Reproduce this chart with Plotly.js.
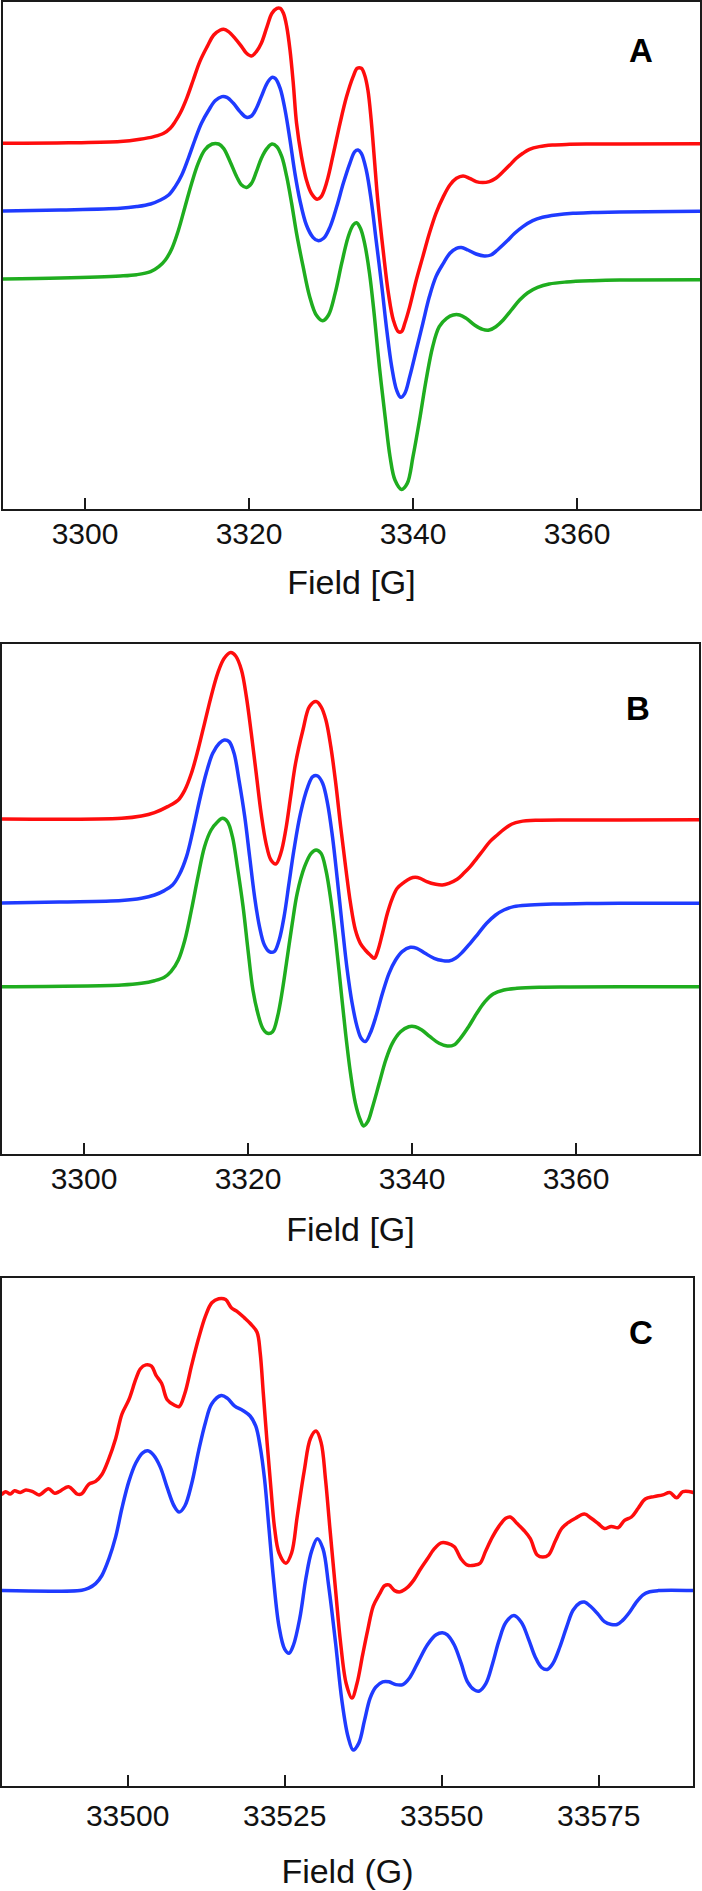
<!DOCTYPE html>
<html>
<head>
<meta charset="utf-8">
<script src="https://cdn.plot.ly/plotly-3.0.1.min.js"></script>
<style>
html,body{margin:0;padding:0;background:#fff;}
#chart{width:702px;height:1891px;}
</style>
</head>
<body>
<div id="chart"></div>
<script>
const fieldRedA = [3290.0,3298.0,3304.3,3306.7,3308.4,3309.6,3310.4,3311.0,3311.6,3312.4,3313.2,3314.0,3314.9,3315.7,3316.5,3316.9,3317.5,3318.3,3319.1,3319.7,3320.3,3320.9,3321.5,3322.2,3322.8,3323.4,3323.8,3324.2,3324.6,3325.0,3325.4,3325.8,3326.4,3327.0,3327.6,3328.3,3328.8,3329.5,3330.3,3331.1,3331.9,3332.7,3333.2,3333.7,3334.1,3334.5,3334.9,3335.3,3335.7,3336.4,3337.0,3337.6,3338.2,3338.6,3339.0,3339.6,3340.4,3341.2,3342.0,3342.8,3343.7,3344.5,3345.3,3346.1,3346.9,3347.7,3348.5,3349.3,3350.1,3351.0,3351.8,3352.6,3353.4,3354.2,3355.4,3357.0,3359.1,3361.1,3365.2,3375.0];
const intRedA = [0,0.5,1.7,4,6.7,10,15,21.7,30,45,63.3,81.7,96.7,108.3,113.3,114,111.7,105,96.7,90,87.3,91.7,100,116.7,130,135,135,130,116.7,93.3,60,20,-13.3,-36.7,-50,-56,-53.3,-38.3,-10,20,46.7,66.7,75,75,68.3,53.3,23.3,-16.7,-56.7,-110,-150,-176.7,-188.3,-188.3,-180,-163.3,-136.7,-113.3,-90,-70,-53.3,-41.7,-35,-32.7,-35,-38.3,-39.3,-38.3,-35,-28.3,-21.7,-15,-10,-6,-3.3,-1.7,-1,-0.7,-0.7,-0.5];
const fieldBlueA = [3290.0,3297.0,3304.3,3306.3,3308.0,3309.2,3310.2,3311.0,3311.8,3312.6,3313.4,3314.2,3315.1,3315.9,3316.7,3317.3,3318.1,3318.9,3319.7,3320.3,3320.9,3321.5,3322.2,3322.8,3323.2,3323.8,3324.4,3325.0,3325.6,3326.2,3327.0,3327.8,3328.4,3329.1,3329.9,3330.7,3331.5,3332.3,3332.9,3333.3,3333.7,3334.3,3334.9,3335.5,3336.2,3336.8,3337.4,3338.0,3338.5,3339.0,3339.6,3340.4,3341.2,3342.0,3342.8,3343.7,3344.5,3345.3,3345.9,3346.7,3347.7,3348.7,3349.5,3350.3,3351.4,3352.4,3353.4,3354.6,3355.8,3357.4,3359.5,3361.9,3365.2,3375.0];
const intBlueA = [0.3,1.3,3,4.7,7.3,11.3,16.3,24.7,36.3,53,71.3,88,101.3,110.7,114.7,114,108,99.7,94,95.3,103,114.7,128,134,133,123,101.3,71.3,38,11.3,-13.7,-26,-29.3,-27,-15.3,4.7,28,48,59.7,61.3,58,41.3,11.3,-28.7,-75.3,-118.7,-155.3,-178.7,-186,-182,-165.3,-138.7,-112,-85.3,-65.3,-52,-42,-37,-36.3,-38.7,-42.7,-44.7,-43.7,-38.7,-30.3,-22,-15.3,-9.3,-6,-3.7,-2,-1.3,-0.7,0];
const fieldGreenA = [3290.0,3297.0,3304.3,3306.3,3308.0,3309.0,3309.8,3310.6,3311.4,3312.2,3313.0,3313.8,3314.6,3315.5,3316.3,3316.9,3317.7,3318.5,3319.1,3319.7,3320.3,3320.9,3321.5,3322.2,3322.8,3323.4,3324.0,3324.6,3325.2,3325.8,3326.6,3327.4,3328.2,3329.0,3329.7,3330.5,3331.3,3332.1,3332.7,3333.1,3333.6,3334.1,3334.7,3335.3,3335.9,3336.6,3337.2,3337.8,3338.6,3339.3,3340.0,3340.8,3341.6,3342.4,3343.2,3344.1,3344.9,3345.7,3346.5,3347.5,3348.5,3349.3,3350.1,3351.0,3352.0,3353.0,3354.0,3355.2,3356.6,3358.7,3361.9,3365.2,3375.0];
const intGreenA = [0.7,1.7,3.7,5,8,13,19.7,31.3,49.7,73,96.3,116.3,129.7,135.7,135.7,131.3,118,103,94.7,92.3,96.3,108,121.3,131.3,135.7,133,123,103,76.3,46.3,13,-17,-35.3,-41,-35.3,-13.7,16.3,43,54.7,57,51.3,36.3,6.3,-37,-87,-137,-177,-200.3,-209.7,-203.7,-177,-140.3,-100.3,-67,-47,-38.7,-35.3,-35.3,-38.7,-45.3,-49.7,-50.3,-47,-40.3,-30.3,-20.3,-13,-7.7,-4.3,-2.3,-1,-0.3,0];
const offsetsA = [365.7, 297.7, 229.3];

const fieldRedB = [3290.0,3304.6,3307.0,3308.6,3310.2,3311.5,3312.3,3313.1,3313.9,3314.7,3315.5,3316.3,3317.1,3317.9,3318.5,3319.2,3319.8,3320.4,3321.0,3321.6,3322.2,3322.8,3323.4,3324.0,3324.6,3325.2,3325.8,3326.7,3327.5,3328.3,3328.9,3329.5,3330.1,3330.7,3331.3,3331.9,3332.5,3333.1,3333.7,3334.3,3334.9,3335.4,3335.8,3336.4,3337.0,3337.6,3338.2,3339.0,3339.8,3340.4,3341.0,3341.8,3342.9,3343.7,3344.5,3345.5,3346.3,3347.1,3347.9,3348.7,3349.5,3350.4,3351.2,3352.2,3353.2,3355.2,3359.3,3365.3,3375.0];
const intRedB = [0.3,1,3.3,6.7,12.7,19.3,29.3,46,69.3,96,122.7,146,161,166.7,163.3,149.3,122.7,86,46,6,-24,-40.7,-44.7,-34,-10.7,22.7,56,89.3,112.7,117.7,112.7,99.3,72.7,36,-7.3,-47.3,-84,-110.7,-124,-130.7,-135.7,-139,-132.3,-114,-94,-79,-69,-63.3,-59,-58,-59,-62.3,-65,-65.7,-64,-60,-54,-47.3,-39,-30.7,-22.3,-15.7,-10,-4.7,-2.3,-1,-0.7,-0.7,-0.5];
const fieldBlueB = [3290.0,3297.0,3304.6,3307.0,3308.6,3309.8,3310.8,3311.6,3312.5,3313.3,3314.1,3314.9,3315.7,3316.5,3317.1,3317.7,3318.3,3318.9,3319.6,3320.2,3320.8,3321.4,3322.0,3322.6,3323.2,3323.8,3324.4,3325.0,3325.6,3326.4,3327.3,3327.9,3328.5,3329.1,3329.7,3330.3,3330.9,3331.5,3332.1,3332.7,3333.3,3333.8,3334.3,3334.9,3335.6,3336.4,3337.2,3338.0,3338.8,3339.8,3340.6,3341.6,3342.7,3343.7,3344.5,3345.3,3346.1,3347.1,3348.1,3349.1,3350.2,3351.2,3352.4,3354.4,3357.2,3361.3,3365.3,3375.0];
const intBlueB = [0.3,1.3,2.7,5,8.3,12.7,18.3,28.3,46.7,73.3,103.3,130,150,160,163.3,161.7,150,123.3,86.7,46.7,6.7,-23.3,-41.7,-48.3,-48.3,-36.7,-13.3,20,53.3,90,116.7,126.7,127.3,120,100,66.7,23.3,-23.3,-66.7,-100,-123.3,-135,-138.3,-130,-113.3,-90,-70,-56.7,-48.3,-44,-45,-50,-55,-57.3,-57.7,-55,-49.3,-40,-30,-20,-11.7,-6.7,-3.3,-1.7,-0.7,-0.3,0,0];
const fieldGreenB = [3290.0,3304.6,3307.0,3308.6,3309.8,3310.6,3311.5,3312.3,3313.1,3313.9,3314.7,3315.5,3316.3,3316.9,3317.5,3318.1,3318.7,3319.4,3320.0,3320.6,3321.2,3321.8,3322.4,3323.0,3323.6,3324.2,3324.8,3325.4,3326.0,3326.9,3327.7,3328.3,3328.9,3329.5,3330.1,3330.7,3331.3,3331.9,3332.5,3333.1,3333.7,3334.1,3334.6,3335.2,3336.0,3336.8,3337.6,3338.6,3339.6,3340.4,3341.2,3342.2,3343.3,3344.3,3345.1,3345.9,3346.9,3347.9,3348.9,3349.9,3351.2,3352.8,3355.6,3359.3,3365.3,3375.0];
const intGreenB = [0.3,2,3.7,6.3,9.7,15.3,27,47,77,110.3,140.3,157,165.3,168.7,165.3,150.3,120.3,80.3,37,-3,-26.3,-41.3,-46.3,-44.7,-29.7,-3,30.3,63.7,93.7,120.3,133.7,137,133.7,117,87,47,0.3,-46.3,-86.3,-116.3,-133,-139,-134.7,-119.7,-96.3,-73,-56.3,-44.7,-39.7,-39.7,-43,-49.7,-56.3,-59,-58,-51.3,-39.7,-26.3,-14.7,-7,-3,-1.3,-0.3,0,0.3,0.3];
const offsetsB = [334.2, 250.2, 166.5];

const fieldRedC = [33479.9,33480.6,33481.3,33482.0,33482.9,33483.8,33484.9,33485.9,33487.4,33488.4,33489.1,33490.6,33492.0,33492.7,33493.8,33494.9,33495.9,33497.0,33498.1,33499.1,33500.2,33501.3,33502.0,33502.9,33503.8,33504.5,33505.4,33506.3,33507.4,33508.2,33509.1,33510.2,33511.3,33512.4,33513.4,33514.5,33515.6,33516.5,33517.5,33518.6,33519.6,33520.6,33521.1,33521.6,33522.2,33522.8,33523.4,33524.1,33525.2,33526.1,33527.0,33528.1,33529.1,33530.0,33530.8,33531.5,33532.2,33533.1,33533.9,33534.8,33535.7,33536.5,33537.4,33538.2,33539.1,33540.1,33540.9,33541.6,33542.5,33543.4,33544.5,33545.6,33546.6,33547.7,33548.8,33549.9,33550.9,33552.0,33553.1,33554.1,33555.2,33556.1,33557.0,33558.1,33559.1,33560.2,33560.9,33562.0,33563.1,33564.1,33565.2,33566.1,33567.0,33568.1,33569.1,33570.2,33571.3,33572.7,33573.8,33574.9,33575.9,33577.0,33578.1,33579.1,33580.2,33581.3,33582.4,33583.8,33585.2,33586.3,33587.4,33588.4,33590.1];
const intRedC = [-1.2,2.0,-0.4,2.9,1.2,3.7,2.0,-1.2,4.9,0.4,2.0,7.0,-0.4,0,9.4,12.3,19.2,34.8,55.2,79.7,94.0,114.5,124.7,128.8,127.6,118.6,110.4,94.0,88.7,87.1,100.2,128.8,155.4,177.8,190.9,195.0,194.2,186.0,181.9,175.8,169.7,161.5,141.0,100.2,51.1,6.1,-34.8,-59.3,-69.5,-59.3,-22.5,22.5,55.2,62.6,51.1,14.3,-34.8,-96.1,-149.2,-190.1,-204.4,-190.1,-161.5,-137.0,-112.4,-100.2,-92.0,-91.2,-96.9,-98.1,-94.0,-85.9,-75.6,-65.4,-55.2,-49.1,-49.5,-53.1,-65.4,-71.5,-71.5,-69.5,-57.2,-42.9,-32.7,-24.5,-23.3,-29.8,-36.8,-45.0,-61.3,-63.4,-61.3,-47.0,-34.8,-28.6,-24.5,-20.4,-24.5,-29.8,-34.8,-32.7,-33.9,-26.6,-23.3,-14.3,-5.3,-2.9,-1.2,1.2,-4.1,2.0,1.2];
const fieldBlueC = [33479.9,33492.7,33493.8,33494.9,33495.9,33497.0,33498.1,33499.1,33500.2,33501.3,33502.4,33503.2,33504.1,33505.2,33506.3,33507.4,33508.2,33509.1,33510.2,33511.3,33512.4,33513.4,33514.9,33515.9,33517.0,33518.4,33519.5,33520.4,33521.1,33521.8,33522.5,33523.2,33524.1,33525.0,33525.7,33526.4,33527.4,33528.4,33529.3,33530.2,33531.1,33532.0,33533.1,33534.1,33535.1,33535.9,33536.8,33537.7,33538.6,33539.5,33540.6,33541.6,33542.7,33543.8,33544.9,33546.3,33547.7,33549.1,33550.1,33550.9,33552.0,33553.1,33554.1,33555.2,33555.9,33557.0,33558.1,33559.1,33560.2,33561.5,33562.7,33563.8,33564.9,33565.9,33566.8,33567.7,33568.8,33569.9,33570.9,33572.0,33572.7,33573.8,33574.9,33575.9,33577.0,33577.9,33578.8,33579.9,33580.9,33582.0,33583.1,33584.5,33590.1];
const intBlueC = [0,0.4,2.5,7.0,15.1,31.5,54.0,82.6,109.2,127.6,137.8,139.8,135.7,123.5,103.0,84.6,78.5,84.6,107.1,139.8,168.4,186.8,195.0,192.2,184.8,179.9,174.6,164.4,143.9,111.2,62.1,13.1,-36.0,-58.5,-62.6,-54.4,-27.8,13.1,39.7,51.9,41.7,4.9,-52.3,-109.6,-146.4,-159.4,-152.5,-130.0,-107.5,-96.5,-91.2,-91.2,-94.0,-94.0,-87.1,-70.7,-54.4,-44.2,-42.1,-44.2,-54.4,-72.8,-91.2,-99.3,-100.6,-93.2,-72.8,-50.3,-31.9,-24.9,-31.9,-48.2,-66.6,-76.9,-78.9,-72.8,-56.4,-36.0,-19.6,-12.3,-11.4,-16.4,-23.7,-31.1,-33.9,-33.9,-29.8,-21.7,-12.3,-4.5,-1.2,0,0];
const offsetsC = [292.3, 195.4];

const ticksAB = [3300, 3320, 3340, 3360];
const ticksC = [33500, 33525, 33550, 33575];
const panelLabels = ["A", "B", "C"];
const axisTitles = ["Field [G]", "Field [G]", "Field (G)"];

const RED = "#ff0d0d", BLUE = "#1f3bff", GREEN = "#1fad1f";
const FONT = "Liberation Sans, Arial, Helvetica, sans-serif";
const LW = 3.5;

function tr(xs, ys, off, color, xa, ya) {
  return {x: xs, y: ys.map(v => v + off), type: "scatter", mode: "lines",
    line: {color: color, width: LW, shape: "spline", smoothing: 1},
    xaxis: xa, yaxis: ya, hoverinfo: "skip", showlegend: false};
}
const data = [
  tr(fieldGreenA, intGreenA, offsetsA[2], GREEN, "x", "y"),
  tr(fieldBlueA, intBlueA, offsetsA[1], BLUE, "x", "y"),
  tr(fieldRedA, intRedA, offsetsA[0], RED, "x", "y"),
  tr(fieldGreenB, intGreenB, offsetsB[2], GREEN, "x2", "y2"),
  tr(fieldBlueB, intBlueB, offsetsB[1], BLUE, "x2", "y2"),
  tr(fieldRedB, intRedB, offsetsB[0], RED, "x2", "y2"),
  tr(fieldBlueC, intBlueC, offsetsC[1], BLUE, "x3", "y3"),
  tr(fieldRedC, intRedC, offsetsC[0], RED, "x3", "y3")
];
const W = 702, H = 1891;
function xax(domainPx, range, ticks, title, anchor, lblOff, ttlOff) {
  return {domain: [domainPx[0] / W, domainPx[1] / W], range: range, anchor: anchor,
    tickmode: "array", tickvals: ticks, ticktext: ticks.map(String),
    ticks: "inside", ticklen: 11, tickwidth: 2, tickcolor: "#1a1a1a",
    showline: true, linecolor: "#1a1a1a", linewidth: 2, mirror: true,
    showgrid: false, zeroline: false, ticklabelstandoff: lblOff,
    tickfont: {family: FONT, size: 30, color: "#111"},
    title: {text: title, font: {family: FONT, size: 34, color: "#111"}, standoff: ttlOff},
    automargin: false};
}
function yax(domainPx, range, anchor) {
  return {domain: [1 - domainPx[1] / H, 1 - domainPx[0] / H], range: range, anchor: anchor,
    showline: true, linecolor: "#1a1a1a", linewidth: 2, mirror: true,
    showgrid: false, zeroline: false, showticklabels: false, ticks: "", automargin: false};
}
function letter(t, xPx, yPx) {
  return {text: "<b>" + t + "</b>", xref: "paper", yref: "paper", x: xPx / W, y: 1 - yPx / H,
    showarrow: false, xanchor: "center", yanchor: "middle", font: {family: FONT, size: 33, color: "#000"}};
}
const layout = {
  width: W, height: H, margin: {l: 0, r: 0, t: 0, b: 0},
  paper_bgcolor: "#fff", plot_bgcolor: "#fff", font: {family: FONT},
  xaxis: xax([3, 700], [3290, 3375], ticksAB, axisTitles[0], "y", -3, 21),
  yaxis: yax([2, 509], [0, 507], "x"),
  xaxis2: xax([2, 699], [3290, 3375], ticksAB, axisTitles[1], "y2", -3, 24),
  yaxis2: yax([643.5, 1153.5], [0, 510], "x2"),
  xaxis3: xax([2, 693], [33480, 33590], ticksC, axisTitles[2], "y3", 2, 28),
  yaxis3: yax([1278, 1786], [0, 508], "x3"),
  annotations: [letter(panelLabels[0], 641, 50), letter(panelLabels[1], 638, 708), letter(panelLabels[2], 641, 1332)]
};
Plotly.newPlot("chart", data, layout, {staticPlot: true, displayModeBar: false});
</script>
</body>
</html>
